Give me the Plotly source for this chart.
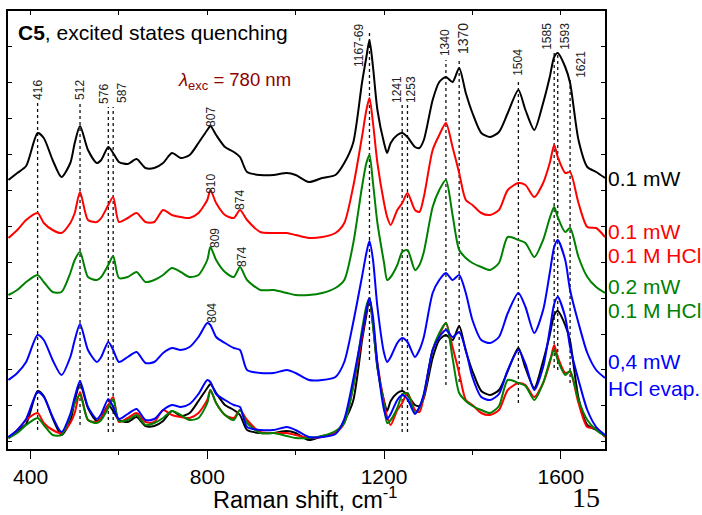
import plotly.graph_objects as go

# ---------------- data ----------------
wavenumber = [350, 370, 390, 416, 430, 450, 470, 490, 500, 512,
              530, 550, 560, 576, 587, 600, 620, 640, 660, 680,
              700, 720, 740, 760, 780, 800, 807, 820, 840, 860,
              874, 890, 920, 950, 980, 1000, 1030, 1060, 1090, 1110,
              1130, 1150, 1160, 1167, 1175, 1185, 1200, 1207, 1215, 1230,
              1241, 1253, 1270, 1280, 1290, 1310, 1325, 1340, 1355, 1370,
              1385, 1400, 1420, 1440, 1460, 1480, 1504, 1520, 1540, 1560,
              1575, 1585, 1593, 1610, 1621, 1640, 1660, 1680, 1700]

# 0.1 mW (black)
int_black = [-1, 6, 13, 46, 41, 19, 2, 16, 36, 53,
             29, 16, 19, 32, 26, 17, 15, 20, 11, 11,
             16, 26, 21, 24, 36, 49, 53, 44, 32, 27,
             22, 7, 4, 4, 6, 4, -3, 1, 4, 16,
             36, 96, 122, 139, 112, 69, 36, 26, 36, 44,
             46, 42, 32, 31, 39, 79, 97, 102, 97, 111,
             86, 66, 46, 42, 47, 66, 89, 69, 49, 76,
             102, 122, 126, 112, 96, 39, 12, 7, 1]

# 0.1 mW, 0.1 M HCl (red)
int_red = [-1, 7, 17, 24, 14, 7, 4, 14, 24, 45,
           17, 15, 19, 32, 40, 15, 19, 24, 15, 15,
           27, 22, 20, 19, 24, 37, 47, 34, 22, 19,
           27, 17, 5, 4, 4, 2, -1, 0, 4, 14,
           50, 100, 127, 139, 114, 74, 34, 20, 12, 27,
           34, 44, 27, 25, 40, 87, 102, 114, 90, 64,
           37, 32, 24, 22, 27, 47, 54, 52, 40, 54,
           74, 92, 80, 64, 65, 34, 10, 9, 0]

# 0.2 mW, 0.1 M HCl (green)
int_green = [-1, 4, 12, 19, 12, 2, 2, 21, 34, 42,
             17, 14, 17, 29, 38, 16, 17, 22, 12, 14,
             19, 26, 22, 17, 19, 34, 47, 34, 22, 17,
             27, 14, 4, 4, 1, -1, -1, 1, 6, 14,
             50, 107, 131, 139, 111, 71, 31, 14, 17, 29,
             42, 44, 24, 29, 42, 87, 104, 114, 79, 44,
             36, 31, 27, 24, 31, 57, 54, 51, 37, 54,
             76, 87, 77, 62, 66, 37, 17, 7, 1]

# 0,4 mW, HCl evaporated (blue)
int_blue = [0, 7, 18, 45, 40, 20, 5, 23, 40, 56,
            30, 18, 23, 38, 30, 18, 23, 28, 17, 18,
            27, 32, 30, 33, 43, 57, 55, 43, 37, 32,
            30, 10, 7, 7, 10, 7, 0, 0, 3, 18,
            57, 103, 127, 139, 120, 73, 27, 18, 23, 37,
            42, 38, 23, 30, 43, 87, 100, 107, 100, 105,
            87, 60, 40, 37, 43, 67, 87, 73, 47, 70,
            107, 133, 140, 120, 90, 57, 27, 10, 2]

series_values = [int_black, int_red, int_green, int_blue]
series_colors = ["#000000", "#ff0000", "#008000", "#0000ff"]
stack_offsets = [258, 200, 143, 57]

# right-hand series labels: (text, colour index, vertical level)
side_labels = ["0.1 mW", "0.1 mW", "0.1 M HCl", "0.2 mW", "0.1 M HCl", "0,4 mW", "HCl evap."]
side_label_color = [0, 1, 1, 2, 2, 3, 3]
side_label_level = [258.5, 205.5, 182, 151, 127, 75.5, 49]

# dotted guide lines at band positions
guide_pos = [416, 512, 576, 587, 1167, 1241, 1253, 1340, 1370, 1504, 1585, 1593, 1621]
guide_top = [334, 334, 330, 330, 405, 332, 332, 377, 377, 357, 385, 385, 357]
guide_bottom = [7, 12, 5, 5, 77, 5, 5, 52, 55, 34, 69, 67, 54]

# band labels
band_text = ["416", "512", "576", "587", "807", "810", "874", "809", "874", "804",
             "1167-69", "1241", "1253", "1340", "1370", "1504", "1585", "1593", "1621"]
band_x = [416.7, 511.8, 566.1, 606.9, 808.3, 808.0, 873.8, 817.4, 878.3, 810.6,
          1143.4, 1229.4, 1261.1, 1338.1, 1378.8, 1502.8, 1568.3, 1609.1, 1645.3]
band_y = [347, 347, 343, 344, 320, 253, 237, 199, 180, 124,
          391, 347, 347, 394, 398, 375, 401, 401, 373]
band_size = [12, 12, 12, 12, 12, 12, 12, 12, 12, 12,
             12, 12, 12, 12, 14, 12, 12, 12, 12]

x_ticks = [400, 800, 1200, 1600]
x_minor = [600, 1000, 1400]

X_RANGE = [349, 1700]
Y_RANGE = [-12, 426]
SANS = "Liberation Sans, Arial, sans-serif"

fig = go.Figure()

# stacked spectra (offset copies)
for i, vals in enumerate(series_values):
    fig.add_trace(go.Scatter(x=wavenumber, y=[v + stack_offsets[i] for v in vals],
                             mode="lines",
                             line=dict(color=series_colors[i], width=2,
                                       shape="spline", smoothing=0.7),
                             showlegend=False, hoverinfo="skip"))
# bottom overlay (no offset); the last one sits on the top-axis overlay
for i, vals in enumerate(series_values):
    fig.add_trace(go.Scatter(x=wavenumber, y=vals, mode="lines",
                             line=dict(color=series_colors[i], width=2,
                                       shape="spline", smoothing=0.7),
                             xaxis="x2" if i == len(series_values) - 1 else "x",
                             showlegend=False, hoverinfo="skip"))

shapes = []
for p, t, b in zip(guide_pos, guide_top, guide_bottom):
    shapes.append(dict(type="line", xref="x", yref="y", x0=p, x1=p, y0=b, y1=t,
                       line=dict(color="#111111", width=1.3, dash="dot"), layer="below"))

annotations = []
for t, x, y, s in zip(band_text, band_x, band_y, band_size):
    annotations.append(dict(text=t, x=x, y=y, xref="x", yref="y", showarrow=False,
                            textangle=-90, xanchor="center", yanchor="middle",
                            font=dict(family=SANS, size=s, color="#222222")))

for t, c, lv in zip(side_labels, side_label_color, side_label_level):
    annotations.append(dict(text=t, x=1, xref="paper", xshift=1, y=lv, yref="y",
                            xanchor="left", yanchor="middle", showarrow=False,
                            font=dict(family=SANS, size=21, color=series_colors[c])))

annotations.append(dict(text="<b>C5</b>, excited states quenching", x=0, xref="paper",
                        xshift=8, y=404.5, yref="y", xanchor="left", yanchor="middle",
                        showarrow=False, font=dict(family=SANS, size=21, color="#000000")))
annotations.append(dict(text="<i>λ</i><sub>exc</sub> = 780 nm", x=729, xref="x",
                        y=356, yref="y", xanchor="left", yanchor="middle", showarrow=False,
                        font=dict(family=SANS, size=18.5, color="#8b0000")))
annotations.append(dict(text="Raman shift, cm<sup>-1</sup>", x=0.497, xref="paper",
                        y=0, yref="paper", yshift=-66, xanchor="center", yanchor="bottom",
                        showarrow=False, font=dict(family=SANS, size=23.5, color="#000000")))
annotations.append(dict(text="15", x=0.968, xref="paper", y=0, yref="paper", yshift=-66,
                        xanchor="center", yanchor="bottom", showarrow=False,
                        font=dict(family="Liberation Serif, Times New Roman, serif",
                                  size=28, color="#000000")))

fig.update_layout(
    width=702, height=515,
    margin=dict(l=8, r=97, t=11, b=66),
    paper_bgcolor="white", plot_bgcolor="white",
    shapes=shapes, annotations=annotations,
    xaxis=dict(range=X_RANGE, tickvals=x_ticks, ticktext=[str(v) for v in x_ticks],
               ticks="outside", ticklen=8, tickwidth=1.3, tickcolor="black",
               minor=dict(tickvals=x_minor, ticks="outside", ticklen=4, tickwidth=1.3,
                          tickcolor="black", showgrid=False),
               showline=True, linecolor="black", linewidth=1.5, mirror=False,
               showgrid=False, zeroline=False,
               tickfont=dict(family=SANS, size=21, color="black")),
    xaxis2=dict(range=X_RANGE, overlaying="x", side="top", anchor="y",
                tickvals=x_ticks + x_minor, ticks="inside", ticklen=4, tickwidth=1.3,
                tickcolor="black", showticklabels=False, showline=True,
                linecolor="black", linewidth=1.5, showgrid=False, zeroline=False),
    yaxis=dict(range=Y_RANGE, tick0=-4.7, dtick=35.9, ticks="inside", ticklen=4,
               tickwidth=1.3, tickcolor="black", showticklabels=False,
               showline=True, linecolor="black", linewidth=1.5, mirror="ticks",
               showgrid=False, zeroline=False),
)

fig.write_html("out.html")
